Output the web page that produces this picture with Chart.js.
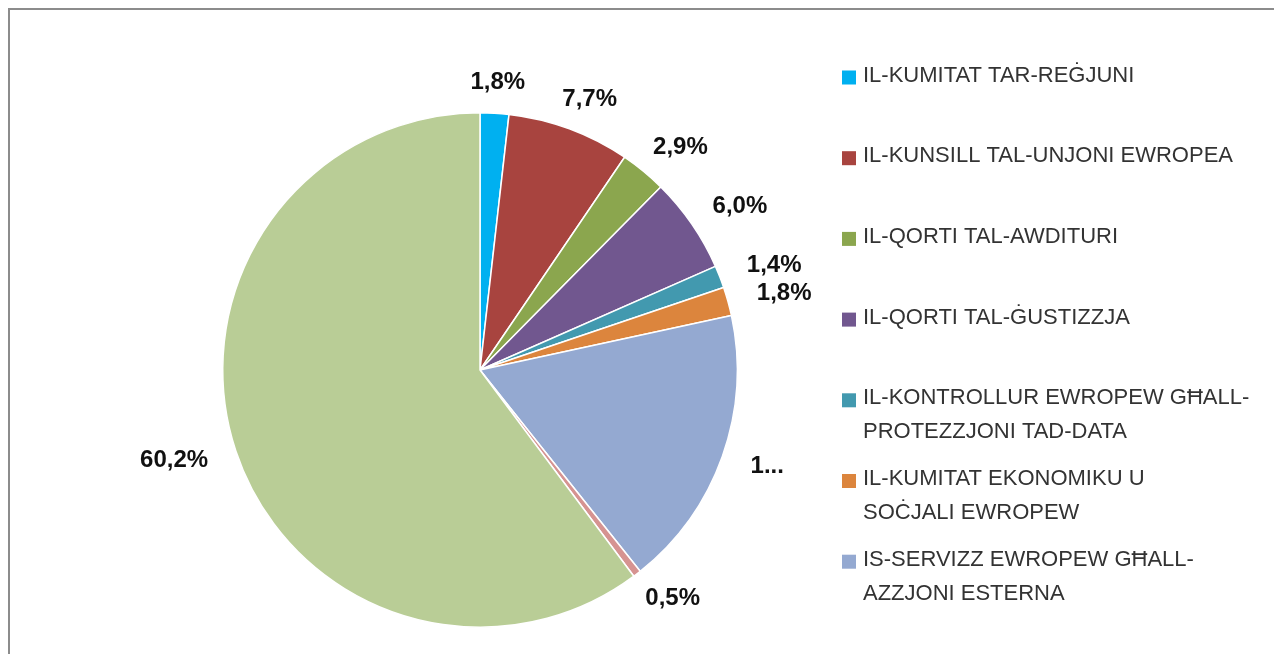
<!DOCTYPE html>
<html>
<head>
<meta charset="utf-8">
<script src="https://cdn.jsdelivr.net/npm/chart.js@4/dist/chart.umd.min.js"></script>
<style>
  html, body { margin: 0; padding: 0; background: #fff; overflow: hidden; }
  #frame { position: absolute; left: 8px; top: 8px; width: 1400px; height: 800px;
           border-left: 2px solid #8c8c8c; border-top: 2px solid #8c8c8c; }
  #wrap { position: absolute; left: 0; top: 0; width: 1274px; height: 654px; }
</style>
</head>
<body>
<div id="frame"></div>
<div id="wrap"><canvas id="c" width="1274" height="654"></canvas></div>
<script>
// ---- data ----
const categories = [
  ["IL-KUMITAT TAR-REĠJUNI"],
  ["IL-KUNSILL TAL-UNJONI EWROPEA"],
  ["IL-QORTI TAL-AWDITURI"],
  ["IL-QORTI TAL-ĠUSTIZZJA"],
  ["IL-KONTROLLUR EWROPEW GĦALL-", "PROTEZZJONI TAD-DATA"],
  ["IL-KUMITAT EKONOMIKU U", "SOĊJALI EWROPEW"],
  ["IS-SERVIZZ EWROPEW GĦALL-", "AZZJONI ESTERNA"],
  ["L-OMBUDSMAN EWROPEW"],
  ["IL-PARLAMENT EWROPEW"]
];
const shares = [1.8, 7.7, 2.9, 6.0, 1.4, 1.8, 17.7, 0.5, 60.2];
const sliceColors = ["#00B0F0", "#A8443F", "#8BA64E", "#71578F", "#4299AF",
                     "#DC853D", "#94A9D1", "#D69391", "#B9CD96"];
const legendVisibleCount = 7;      // the reference legend is cut after 7 entries
const truncatedLabels = [6];       // labels shown cut short ("1...") in the reference

const fmt = v => v.toFixed(1).replace('.', ',') + '%';

const labelPlugin = {
  id: 'outsideLabels',
  afterDatasetsDraw(chart) {
    const ctx = chart.ctx;
    const meta = chart.getDatasetMeta(0);
    ctx.save();
    ctx.font = 'bold 24px "Liberation Sans", Arial, sans-serif';
    ctx.fillStyle = '#111';
    ctx.textBaseline = 'middle';
    ctx.textAlign = 'center';
    const gap = 31;
    meta.data.forEach((arc, i) => {
      const p = arc.getProps(['x', 'y', 'startAngle', 'endAngle', 'outerRadius'], true);
      const mid = (p.startAngle + p.endAngle) / 2;
      let text = fmt(shares[i]);
      if (truncatedLabels.includes(i)) text = text.charAt(0) + '...';
      const w = ctx.measureText(text).width;
      const cx = p.x + (p.outerRadius + gap + w / 2) * Math.cos(mid);
      const cy = p.y + (p.outerRadius + gap) * Math.sin(mid);
      ctx.fillText(text, cx, cy);
    });
    ctx.restore();
  }
};

const legendPlugin = {
  id: 'sideLegend',
  afterDraw(chart) {
    const ctx = chart.ctx;
    const ds = chart.data.datasets[0];
    const x0 = 842, y0 = 75.5, step = 80.7, lineH = 34, box = 14;
    ctx.save();
    ctx.font = '22px "Liberation Sans", Arial, sans-serif';
    ctx.textBaseline = 'middle';
    ctx.textAlign = 'left';
    for (let i = 0; i < legendVisibleCount; i++) {
      const y = y0 + i * step;
      ctx.fillStyle = ds.backgroundColor[i];
      ctx.fillRect(x0, y - box / 2 + 2, box, box);
      ctx.fillStyle = '#333';
      chart.data.labels[i].forEach((line, k) => {
        ctx.fillText(line, x0 + 21, y + k * lineH);
      });
    }
    ctx.restore();
  }
};

new Chart(document.getElementById('c'), {
  type: 'pie',
  data: {
    labels: categories,
    datasets: [{
      data: shares,
      backgroundColor: sliceColors,
      borderColor: '#ffffff',
      borderWidth: 1.5
    }]
  },
  options: {
    responsive: false,
    animation: false,
    layout: { padding: { left: 222, right: 536, top: 112, bottom: 26 } },
    plugins: { legend: { display: false }, tooltip: { enabled: false } }
  },
  plugins: [labelPlugin, legendPlugin]
});
</script>
</body>
</html>
